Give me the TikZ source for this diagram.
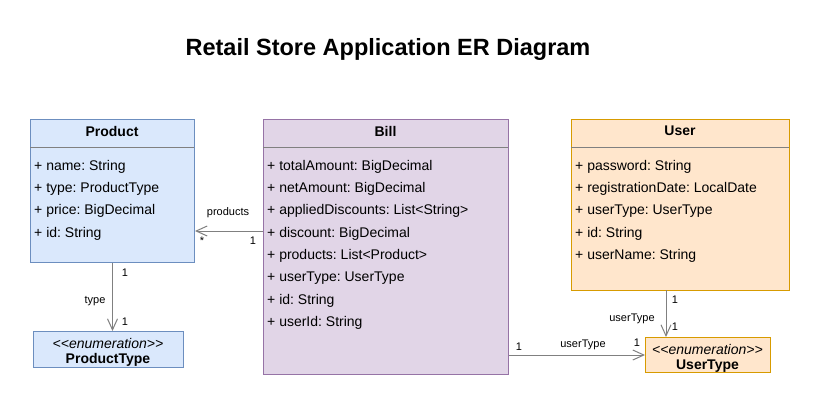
\documentclass[tikz,border=0pt]{standalone}
\usepackage{fontspec}
\setmainfont{Liberation Sans}
\usetikzlibrary{arrows.meta}

\definecolor{prodfill}{HTML}{DAE8FC}
\definecolor{prodline}{HTML}{6C8EBF}
\definecolor{billfill}{HTML}{E1D5E7}
\definecolor{billline}{HTML}{9673A6}
\definecolor{userfill}{HTML}{FFE6CC}
\definecolor{userline}{HTML}{D79B00}
\definecolor{linegray}{HTML}{808080}

\tikzset{
  classbox/.style={draw, line width=1pt, anchor=north west, inner sep=0pt},
  attr/.style={anchor=west, inner sep=0pt, font=\fontsize{14}{16}\selectfont},
  head/.style={inner sep=0pt, font=\bfseries\fontsize{14}{16}\selectfont},
  stereo/.style={inner sep=0pt, font=\itshape\fontsize{14}{16}\selectfont},
  lab/.style={inner sep=0pt, font=\fontsize{11}{13}\selectfont},
  divider/.style={draw=linegray, line width=0.8pt},
  assoc/.style={draw=linegray, line width=1pt, -{Straight Barb[length=11pt,width=10pt]}},
}

\begin{document}
\frenchspacing
\begin{tikzpicture}[x=1pt,y=-1pt]
   \useasboundingbox[fill=white] (0,0) rectangle (820,405);
   \node[font=\bfseries\fontsize{23.5}{28}\selectfont] (title) at (388,49) {Retail Store Application ER Diagram};

   % Product
   \node[classbox, draw=prodline, fill=prodfill, minimum width=164pt, minimum height=143pt] (product) at (30,119) {};
   \node[head] (producthead) at (112,131) {Product};
   \draw[divider] (product.north west) ++(0,28) -- ++(164,0);
   \foreach \t [count=\i] in {+ name: String, + type: ProductType, + price: BigDecimal, + id: String}
     \node[attr] (prodattr\i) at (34,144+22.4*\i) {\t};

   % ProductType
   \node[classbox, draw=prodline, fill=prodfill, minimum width=150pt, minimum height=36pt] (ptype) at (33,331) {};
   \node[stereo] (ptypestereo) at (108,343) {<{}<enumeration>{}>};
   \node[head] (ptypename) at (108,360) {ProductType};

   % Bill
   \node[classbox, draw=billline, fill=billfill, minimum width=245pt, minimum height=255pt] (bill) at (263,119) {};
   \node[head] (billhead) at (385.5,131) {Bill};
   \draw[divider] (bill.north west) ++(0,28) -- ++(245,0);
   \foreach \t [count=\i] in {+ totalAmount: BigDecimal, + netAmount: BigDecimal, + appliedDiscounts: List<String>, + discount: BigDecimal, + products: List<Product>, + userType: UserType, + id: String, + userId: String}
     \node[attr] (billattr\i) at (267,144+22.4*\i) {\t};

   % User
   \node[classbox, draw=userline, fill=userfill, minimum width=218pt, minimum height=171pt] (user) at (571,119) {};
   \node[head] (userhead) at (680,131) {User};
   \draw[divider] (user.north west) ++(0,28) -- ++(218,0);
   \foreach \t [count=\i] in {+ password: String, + registrationDate: LocalDate, + userType: UserType, + id: String, + userName: String}
     \node[attr] (userattr\i) at (575,144+22.4*\i) {\t};

   % UserType
   \node[classbox, draw=userline, fill=userfill, minimum width=125pt, minimum height=35pt] (utype) at (645,337) {};
   \node[stereo] (utypestereo) at (707.5,349) {<{}<enumeration>{}>};
   \node[head] (utypename) at (707.5,366) {UserType};

   % associations
   \coordinate (billprod) at (263,231);
   \draw[assoc] (billprod) -- (billprod -| product.east);
   \node[lab] (prodrole) at (228,213) {products};
   \node[lab] (prodmany) at (202,241) {*};
   \node[lab] (prodone) at (253,241) {1};

   \draw[assoc] (product.south) -- (product.south |- ptype.north);
   \node[lab] (typeone) at (125,273) {1};
   \node[lab] (typerole) at (95,301) {type};
   \node[lab] (typetwo) at (125,322) {1};

   \coordinate (userut) at (666,290);
   \draw[assoc] (userut) -- (userut |- utype.north);
   \node[lab] (utone) at (675,300) {1};
   \node[lab] (utrole) at (632,319) {userType};
   \node[lab] (uttwo) at (675,327) {1};

   \draw[assoc] (bill.east |- utype.west) -- (utype.west);
   \node[lab] (bone) at (519,347) {1};
   \node[lab] (brole) at (583,345) {userType};
   \node[lab] (btwo) at (637,343) {1};
\end{tikzpicture}
\end{document}
